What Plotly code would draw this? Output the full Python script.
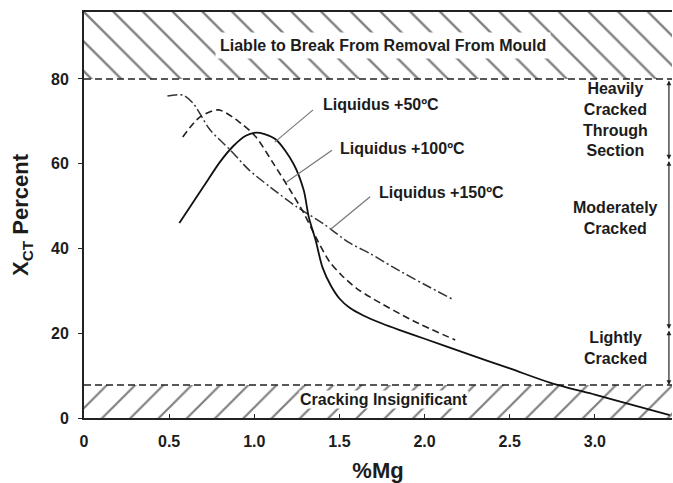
import plotly.graph_objects as go

# Hot-cracking tendency X_CT versus magnesium content, three pouring temperatures
mg_50 = [0.56, 0.70, 0.80, 0.88, 0.95, 1.00, 1.06, 1.13, 1.23, 1.29, 1.32, 1.36, 1.40,
         1.45, 1.50, 1.56, 1.64, 1.75, 1.85, 2.00, 2.24, 2.50, 2.74, 3.00, 3.23, 3.44]
xct_50 = [46.0, 54.5, 60.5, 64.3, 66.6, 67.3, 67.0, 65.6, 60.0, 53.8, 47.4, 42.0, 35.6,
          31.2, 28.2, 26.0, 24.2, 22.3, 20.8, 18.7, 15.3, 11.7, 8.3, 5.5, 3.0, 0.7]

mg_100 = [0.58, 0.68, 0.79, 0.92, 1.01, 1.11, 1.21, 1.29, 1.37, 1.44, 1.51, 1.60,
          1.69, 1.93, 2.18]
xct_100 = [66.3, 71.0, 72.7, 69.6, 66.3, 60.2, 53.8, 48.4, 42.0, 37.0, 33.8, 30.6,
           28.3, 23.0, 18.4]

mg_150 = [0.49, 0.58, 0.64, 0.74, 0.86, 0.97, 1.09, 1.25, 1.40, 1.56, 1.68, 1.81,
          2.00, 2.17]
xct_150 = [76.0, 76.2, 74.3, 68.0, 63.2, 58.5, 54.6, 49.8, 46.0, 41.3, 38.8, 35.7,
           31.5, 27.9]

x_tick_vals = [0, 0.5, 1.0, 1.5, 2.0, 2.5, 3.0]
x_tick_text = ["0", "0.5", "1.0", "1.5", "2.0", "2.5", "3.0"]
y_tick_vals = [0, 20, 40, 60, 80]

# cracking severity zones (X_CT limits)
break_limit = 80.0
heavy_limit = 61.0
light_limit = 21.0
insignificant_limit = 7.8

x_max = 3.453
y_max = 95.8

FONT = "Liberation Sans, Arial, sans-serif"
INK = "#1c1c1c"

fig = go.Figure()

# hatched zones
fig.add_trace(go.Scatter(
    x=[0, x_max, x_max, 0, 0], y=[break_limit, break_limit, y_max, y_max, break_limit],
    mode="lines", line=dict(width=0), fill="toself", fillcolor="white",
    fillpattern=dict(shape="\\", size=21, solidity=0.11, fgcolor="#000", bgcolor="white"),
    hoverinfo="skip", showlegend=False))
fig.add_trace(go.Scatter(
    x=[0, x_max, x_max, 0, 0], y=[0, 0, insignificant_limit, insignificant_limit, 0],
    mode="lines", line=dict(width=0), fill="toself", fillcolor="white",
    fillpattern=dict(shape="/", size=20, solidity=0.11, fgcolor="#000", bgcolor="white"),
    hoverinfo="skip", showlegend=False))

# zone boundaries
for lim in (break_limit, insignificant_limit):
    fig.add_trace(go.Scatter(
        x=[0, x_max], y=[lim, lim], mode="lines",
        line=dict(color="#222", width=1.4, dash="7px,4px"),
        hoverinfo="skip", showlegend=False))

# curves
fig.add_trace(go.Scatter(
    x=mg_150, y=xct_150, mode="lines", name="Liquidus +150ºC",
    line=dict(color="#333", width=1.5, dash="10px,3px,2px,3px", shape="spline", smoothing=0.8)))
fig.add_trace(go.Scatter(
    x=mg_100, y=xct_100, mode="lines", name="Liquidus +100ºC",
    line=dict(color="#222", width=1.6, dash="7px,4px", shape="spline", smoothing=0.8)))
fig.add_trace(go.Scatter(
    x=mg_50, y=xct_50, mode="lines", name="Liquidus +50ºC",
    line=dict(color="#111", width=1.8, shape="spline", smoothing=0.8)))

# leader lines from the curve labels
leaders = [((1.345, 72.7), (1.12, 65.1)),
           ((1.456, 63.2), (1.19, 55.7)),
           ((1.68, 52.2), (1.445, 44.4))]
shapes = []
for (x0, y0), (x1, y1) in leaders:
    shapes.append(dict(type="line", xref="x", yref="y", x0=x0, y0=y0, x1=x1, y1=y1,
                       line=dict(color="#777", width=1.2)))

annotations = []
label_font = dict(family=FONT, size=16, color=INK, weight="bold")
for txt, x, y in [("Liquidus +50ºC", 1.392, 73.9),
                  ("Liquidus +100ºC", 1.491, 63.7),
                  ("Liquidus +150ºC", 1.72, 53.3)]:
    annotations.append(dict(text=txt, x=x, y=y, xref="x", yref="y", xanchor="left",
                            yanchor="middle", showarrow=False, font=label_font))

annotations.append(dict(text="Liable to Break From Removal From Mould", x=1.756, y=88.0,
                        xref="x", yref="y", showarrow=False, font=label_font,
                        bgcolor="white", borderpad=4))
annotations.append(dict(text="Cracking Insignificant", x=1.759, y=4.25,
                        xref="x", yref="y", showarrow=False, font=label_font,
                        bgcolor="white", borderpad=0))

for txt, y in [("Heavily<br>Cracked<br>Through<br>Section", 70.4),
               ("Moderately<br>Cracked", 47.3),
               ("Lightly<br>Cracked", 16.6)]:
    annotations.append(dict(text=txt, x=3.121, y=y, xref="x", yref="y", showarrow=False,
                            align="center", font=label_font))

# severity range arrows along the right edge
arrow_x = 3.435
for top, bottom in [(break_limit, heavy_limit), (heavy_limit, light_limit),
                    (light_limit, insignificant_limit)]:
    annotations.append(dict(x=arrow_x, y=bottom, ax=arrow_x, ay=top, xref="x", yref="y",
                            axref="x", ayref="y", text="", showarrow=True,
                            arrowside="end+start", arrowhead=2, arrowsize=0.8,
                            arrowwidth=1.2, arrowcolor="#222", startarrowhead=2,
                            startarrowsize=0.8))

fig.update_layout(
    width=673, height=483,
    margin=dict(l=84, r=1, t=12, b=65),
    paper_bgcolor="white", plot_bgcolor="white",
    showlegend=False,
    font=dict(family=FONT, color=INK, weight="bold"),
    shapes=shapes, annotations=annotations,
    xaxis=dict(range=[0, x_max], tickvals=x_tick_vals, ticktext=x_tick_text,
               showgrid=False, zeroline=False, showline=True, linecolor="#222",
               linewidth=2, mirror=True, ticks="inside", ticklen=4, tickcolor="#222",
               ticklabelstandoff=8,
               tickfont=dict(family=FONT, size=16, color=INK, weight="bold"),
               title=dict(text="%Mg", standoff=14,
                          font=dict(family=FONT, size=22, color=INK, weight="bold"))),
    yaxis=dict(range=[0, y_max], tickvals=y_tick_vals,
               showgrid=False, zeroline=False, showline=True, linecolor="#222",
               linewidth=2, ticks="outside", ticklen=4, tickcolor="#222",
               ticklabelstandoff=6,
               tickfont=dict(family=FONT, size=16, color=INK, weight="bold"),
               title=dict(text="X<sub>CT</sub> Percent", standoff=16,
                          font=dict(family=FONT, size=22, color=INK, weight="bold"))),
)

fig.write_html("out.html")
